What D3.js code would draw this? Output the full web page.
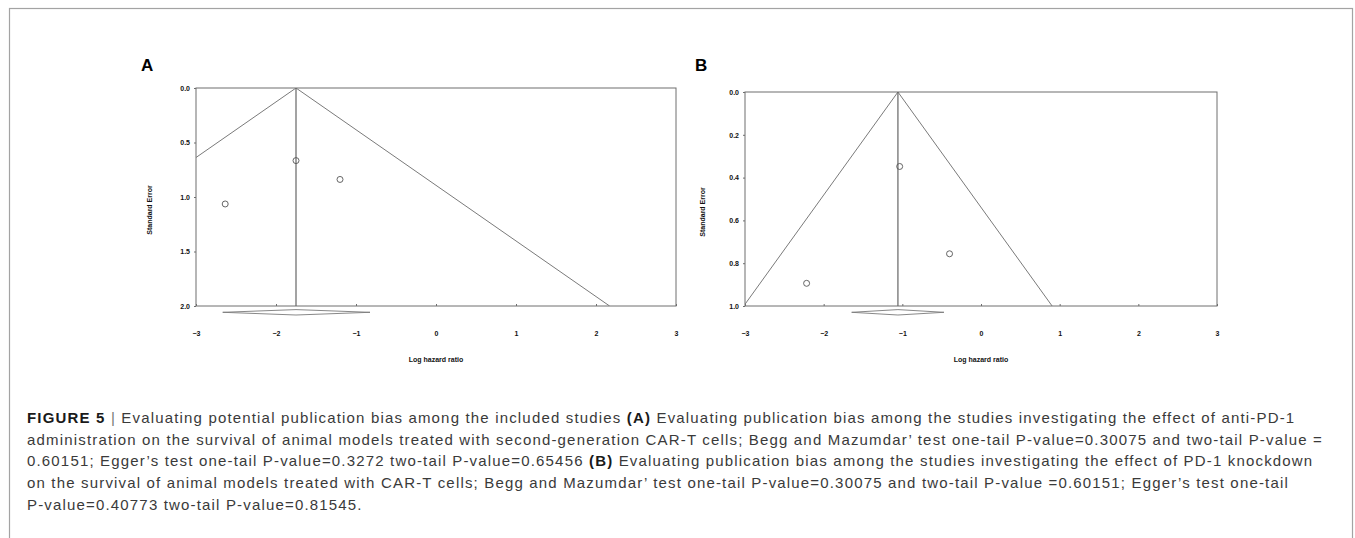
<!DOCTYPE html>
<html>
<head>
<meta charset="utf-8">
<script src="https://cdn.jsdelivr.net/npm/d3@7"></script>
<style>
    body { margin: 0; background: #fff; }
    svg { display: block; }
    .tick-label { font-family: "Liberation Sans", Arial, sans-serif; font-weight: bold; font-size: 7px; fill: #111; }
    .axis-title { font-family: "Liberation Sans", Arial, sans-serif; font-weight: bold; font-size: 7px; fill: #111; }
    .panel-label { font-family: "Liberation Sans", Arial, sans-serif; font-weight: bold; font-size: 17px; fill: #000; }
    .caption { font-family: "Liberation Sans", Arial, sans-serif; font-size: 15px; fill: #3a3a3a; }
</style>
</head>
<body>
<div id="chart"></div>
<script>
// x ticks (log hazard ratio), shared by both panels
let xTicks = [-3, -2, -1, 0, 1, 2, 3];

// Panel A: anti-PD-1 administration
let studiesA_logHR = [-2.635, -1.75, -1.20];
let studiesA_se = [1.064, 0.666, 0.839];
let pooledA = -1.75;
let ciA = [-2.666, -0.825];
let yTicksA = [0.0, 0.5, 1.0, 1.5, 2.0];

// Panel B: PD-1 knockdown
let studiesB_logHR = [-1.034, -0.40, -2.217];
let studiesB_se = [0.348, 0.756, 0.894];
let pooledB = -1.056;
let ciB = [-1.644, -0.471];
let yTicksB = [0.0, 0.2, 0.4, 0.6, 0.8, 1.0];

let captionLines = [
    [["b", "FIGURE 5"], ["t", " "], ["bar", "|"], ["t", " Evaluating potential publication bias among the included studies "], ["b", "(A)"], ["t", " Evaluating publication bias among the studies investigating the effect of anti-PD-1"]],
    [["t", "administration on the survival of animal models treated with second-generation CAR-T cells; Begg and Mazumdar\u2019 test one-tail P-value=0.30075 and two-tail P-value ="]],
    [["t", "0.60151; Egger\u2019s test one-tail P-value=0.3272 two-tail P-value=0.65456 "], ["b", "(B)"], ["t", " Evaluating publication bias among the studies investigating the effect of PD-1 knockdown"]],
    [["t", "on the survival of animal models treated with CAR-T cells; Begg and Mazumdar\u2019 test one-tail P-value=0.30075 and two-tail P-value =0.60151; Egger\u2019s test one-tail"]],
    [["t", "P-value=0.40773 two-tail P-value=0.81545."]]
];

let svg = d3.select("#chart").append("svg")
    .attr("width", 1355)
    .attr("height", 538);

// figure frame
svg.append("rect")
    .attr("x", 9.5).attr("y", 8.5)
    .attr("width", 1343).attr("height", 600)
    .attr("fill", "none")
    .attr("stroke", "#a3a3a3")
    .attr("stroke-width", 1.2);

class FunnelPlot {

    constructor(config) {
        this.config = config;
        this.initVis();
    }

    initVis() {
        let vis = this;
        let c = vis.config;

        vis.g = svg.append("g")
            .attr("transform", "translate(" + c.left + "," + c.top + ")");

        vis.x = d3.scaleLinear().domain([-3, 3]).range([0, c.width]);
        vis.y = d3.scaleLinear().domain([0, d3.max(c.yTicks)]).range([0, c.height]);

        // clip for the funnel lines
        vis.g.append("clipPath").attr("id", "clip-" + c.id)
            .append("rect").attr("width", c.width).attr("height", c.height);

        // plot box
        vis.g.append("rect")
            .attr("width", c.width).attr("height", c.height)
            .attr("fill", "none").attr("stroke", "#6e6e6e").attr("stroke-width", 1);

        // y axis
        let yAxis = d3.axisLeft(vis.y).tickValues(c.yTicks).tickSize(2).tickFormat(d3.format(".1f"));
        let yg = vis.g.append("g").call(yAxis);
        yg.select(".domain").remove();
        yg.selectAll("line").attr("stroke", "#6e6e6e");
        yg.selectAll("text").attr("class", "tick-label").attr("x", -6).attr("dy", "0.32em")
            .attr("font-size", null).attr("font-family", null).attr("fill", null);

        // x axis (ticks pointing inward)
        let xAxis = d3.axisTop(vis.x).tickValues(xTicks).tickSize(2).tickFormat(d3.format("d"));
        let xg = vis.g.append("g").attr("transform", "translate(0," + c.height + ")").call(xAxis);
        xg.select(".domain").remove();
        xg.selectAll("line").attr("stroke", "#6e6e6e");
        xg.selectAll("text").attr("class", "tick-label").attr("y", 29.5).attr("dy", null)
            .attr("font-size", null).attr("font-family", null).attr("fill", null);

        vis.g.append("text")
            .attr("class", "axis-title")
            .attr("text-anchor", "middle")
            .attr("x", c.width / 2)
            .attr("y", c.height + 55.5)
            .text("Log hazard ratio");

        vis.g.append("text")
            .attr("class", "axis-title")
            .attr("text-anchor", "middle")
            .attr("transform", "translate(" + c.yTitleX + "," + c.yTitleY + ") rotate(-90)")
            .attr("dy", "0.35em")
            .text("Standard Error");

        vis.g.append("text")
            .attr("class", "panel-label")
            .attr("x", c.labelX).attr("y", c.labelY)
            .text(c.id);

        vis.updateVis();
    }

    updateVis() {
        let vis = this;
        let c = vis.config;
        let seMax = d3.max(c.yTicks);

        // funnel: pooled estimate +/- 1.96 * SE
        let funnel = [[c.pooled - 1.96 * seMax, seMax], [c.pooled, 0], [c.pooled + 1.96 * seMax, seMax]];
        vis.g.append("path")
            .attr("clip-path", "url(#clip-" + c.id + ")")
            .attr("d", d3.line().x(d => vis.x(d[0])).y(d => vis.y(d[1]))(funnel))
            .attr("fill", "none").attr("stroke", "#7a7a7a").attr("stroke-width", 1);

        // pooled estimate line
        vis.g.append("line")
            .attr("x1", vis.x(c.pooled)).attr("x2", vis.x(c.pooled))
            .attr("y1", vis.y(0)).attr("y2", vis.y(seMax))
            .attr("stroke", "#666").attr("stroke-width", 1.2);

        // studies
        let pts = c.logHR.map((d, i) => ({ x: d, se: c.se[i] }));
        vis.g.selectAll(".study").data(pts)
            .enter().append("circle")
            .attr("class", "study")
            .attr("cx", d => vis.x(d.x))
            .attr("cy", d => vis.y(d.se))
            .attr("r", 3)
            .attr("fill", "none")
            .attr("stroke", "#555")
            .attr("stroke-width", 0.9);

        // summary diamond below the axis
        let dy = c.height + 6.3;
        let diamond = [[c.ci[0], 0], [c.pooled, -2.7], [c.ci[1], 0], [c.pooled, 2.7]];
        vis.g.append("path")
            .attr("d", "M" + diamond.map(d => [vis.x(d[0]), dy + d[1]].join(",")).join("L") + "Z")
            .attr("fill", "none").attr("stroke", "#7a7a7a").attr("stroke-width", 0.9);
    }
}

new FunnelPlot({
    id: "A", left: 196, top: 88, width: 480, height: 218,
    yTicks: yTicksA, logHR: studiesA_logHR, se: studiesA_se, pooled: pooledA, ci: ciA,
    yTitleX: -46, yTitleY: 122, labelX: -55, labelY: -17
});

new FunnelPlot({
    id: "B", left: 745, top: 92, width: 472, height: 214,
    yTicks: yTicksB, logHR: studiesB_logHR, se: studiesB_se, pooled: pooledB, ci: ciB,
    yTitleX: -42, yTitleY: 120, labelX: -50, labelY: -21
});

// caption
let baseY = 423, lineGap = 21.7, capX = 27;
let capTexts = captionLines.map(function (segs, i) {
    let t = svg.append("text")
        .attr("class", "caption")
        .attr("x", capX)
        .attr("y", baseY + i * lineGap)
        .attr("xml:space", "preserve");
    segs.forEach(function (s) {
        let ts = t.append("tspan").text(s[1]);
        if (s[0] === "b") ts.attr("font-weight", "bold").attr("fill", "#1a1a1a");
        if (s[0] === "bar") ts.attr("fill", "#777");
    });
    return t;
});

// fit the letter spacing so line 2 spans the same width as in the figure
let line2 = capTexts[1];
let measured = line2.node().getComputedTextLength();
let nChars = captionLines[1][0][1].length;
let ls = (1296 - measured) / nChars;
capTexts.forEach(t => t.attr("letter-spacing", ls));
</script>
</body>
</html>
